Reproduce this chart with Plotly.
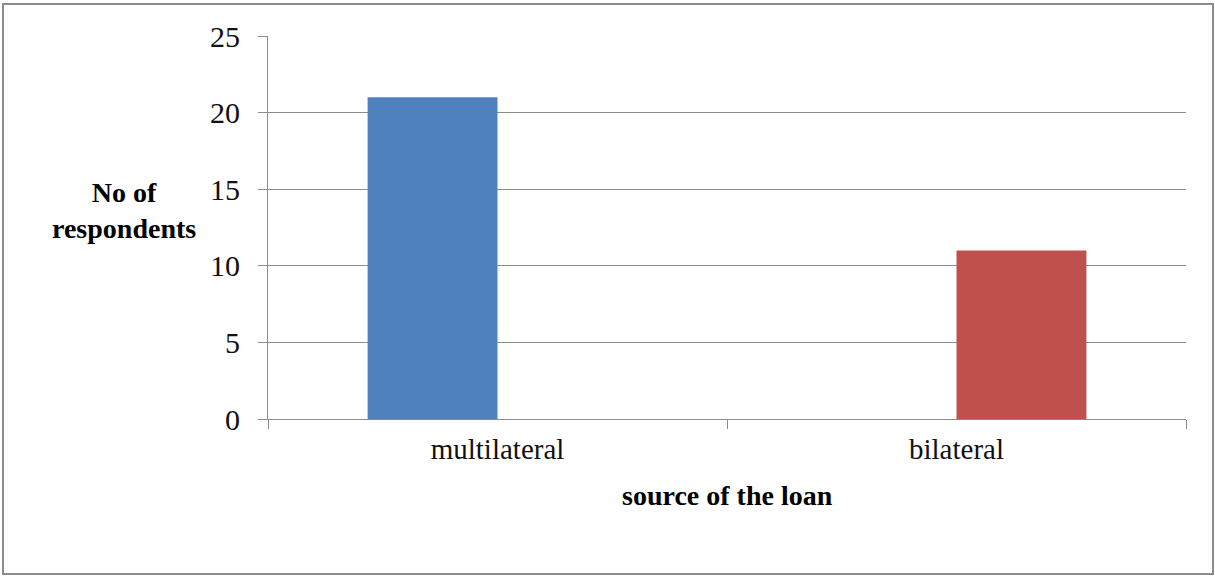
import plotly.graph_objects as go

categories = ["multilateral", "bilateral"]
multilateral_vals = [21, None]
bilateral_vals = [None, 11]
y_ticks = [0, 5, 10, 15, 20, 25]

W, H = 1215, 576
L, R, T, B = 268, 29, 36, 157
pw, ph = W - L - R, H - T - B

fig = go.Figure()
fig.add_trace(go.Bar(x=categories, y=multilateral_vals, marker=dict(color="#4F81BD", line=dict(width=0)), name="multilateral"))
fig.add_trace(go.Bar(x=categories, y=bilateral_vals, marker=dict(color="#C0504D", line=dict(width=0)), name="bilateral"))

def px_x(p):
    return (p - L) / pw

def px_y(p):
    return (H - B - p) / ph

fig.update_layout(
    width=W, height=H,
    margin=dict(l=L, r=R, t=T, b=B),
    barmode="group", bargap=0.434, bargroupgap=0,
    plot_bgcolor="white", paper_bgcolor="white",
    showlegend=False,
    font=dict(family="Liberation Serif", color="black"),
    xaxis=dict(
        showline=True, linecolor="#8C8C8C", linewidth=1,
        ticks="outside", tickson="boundaries", ticklen=9, tickcolor="#8C8C8C",
        tickfont=dict(size=29, family="Liberation Serif", color="#111"),
        ticklabelstandoff=4,
    ),
    yaxis=dict(
        range=[0, 25], tickvals=y_ticks,
        showline=True, linecolor="#8C8C8C", linewidth=1,
        ticks="outside", ticklen=9, tickcolor="#8C8C8C",
        showgrid=True, gridcolor="#8C8C8C", gridwidth=1,
        zeroline=False,
        tickfont=dict(size=30, family="Liberation Serif", color="#111"),
        ticklabelstandoff=12,
    ),
    annotations=[
        dict(text="<b>No of<br>respondents</b>", xref="paper", yref="paper",
             x=px_x(124), y=px_y(211), xanchor="center", yanchor="middle",
             showarrow=False, font=dict(size=28, family="Liberation Serif", color="black")),
        dict(text="<b>source of the loan</b>", xref="paper", yref="paper",
             x=px_x(727), y=px_y(495), xanchor="center", yanchor="middle",
             showarrow=False, font=dict(size=28, family="Liberation Serif", color="black")),
    ],
    shapes=[
        dict(type="rect", xref="paper", yref="paper",
             x0=px_x(3), x1=px_x(1213), y0=px_y(574), y1=px_y(4),
             line=dict(color="#8C8C8C", width=2), fillcolor="rgba(0,0,0,0)", layer="below"),
    ],
)

fig.write_html("out.html", config={"displayModeBar": False},
               post_script="document.body.style.margin='0';document.body.style.overflow='hidden';")
